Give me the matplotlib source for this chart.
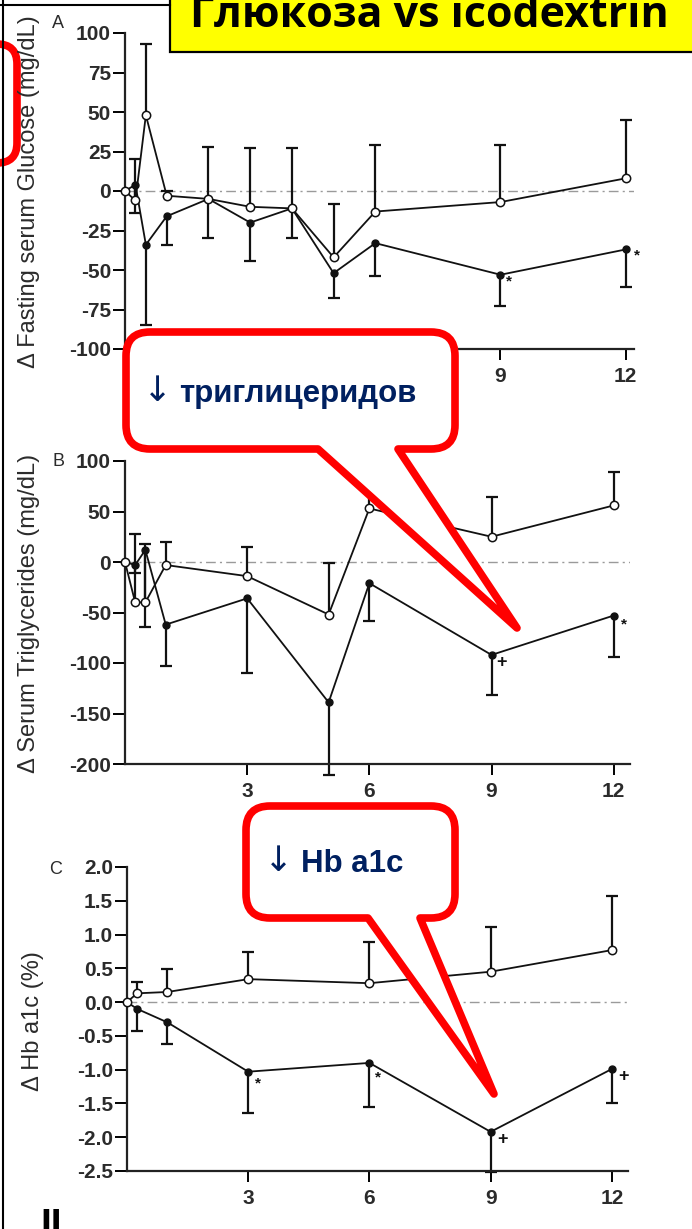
import numpy as np
import matplotlib
matplotlib.use("Agg")
import matplotlib.pyplot as plt
from matplotlib.path import Path
from matplotlib.patches import PathPatch, Rectangle

plt.rcParams['axes.unicode_minus'] = False
plt.rcParams['font.family'] = ['Liberation Sans', 'DejaVu Sans']

# ---- data ----
# A: fasting glucose, open = glucose group, filled = icodextrin group
months_a = [0, 0.25, 0.5, 1, 2, 3, 4, 5, 6, 9, 12]
glu_open = [0, -6, 48, -3, -5, -10, -11, -42, -13, -7, 8]
glu_open_err = [0, 26, 45, 3, 33, 37, 38, 34, 42, 36, 37]
glu_fill = [0, 4, -34, -16, -5, -20, -11, -52, -33, -53, -37]
glu_fill_err = [0, 18, 51, 18, 25, 24, 19, 16, 21, 20, 24]
sig_a_x = [9.2, 12.28]
sig_a_y = [-57, -41]
sig_a_txt = ['*', '*']

# B: triglycerides
months_b = [0, 0.25, 0.5, 1, 3, 5, 6, 9, 12]
tg_open = [0, -40, -40, -3, -14, -52, 53, 25, 56]
tg_open_err = [0, 68, 58, 23, 29, 51, 35, 39, 33]
tg_fill = [0, -3, 12, -62, -36, -139, -21, -92, -53]
tg_fill_err = [0, 8, 76, 41, 74, 72, 37, 40, 41]
sig_b_x = [9.25, 12.25]
sig_b_y = [-100, -62]
sig_b_txt = ['+', '*']

# C: Hb a1c
months_c = [0, 0.25, 1, 3, 6, 9, 12]
hb_open = [0, 0.13, 0.15, 0.34, 0.28, 0.45, 0.77]
hb_open_err = [0, 0.17, 0.34, 0.40, 0.61, 0.66, 0.80]
hb_fill = [0, -0.1, -0.3, -1.03, -0.9, -1.92, -0.99]
hb_fill_err = [0, 0.33, 0.32, 0.61, 0.65, 0.6, 0.51]
sig_c_x = [3.25, 6.2, 9.3, 12.3]
sig_c_y = [-1.2, -1.12, -2.04, -1.1]
sig_c_txt = ['*', '*', '+', '+']

month_ticks = [3, 6, 9, 12]

W, H = 692, 1229
fig = plt.figure(figsize=(W / 100, H / 100), dpi=100)
fig.patch.set_facecolor('white')

TXT = '#2b2b2b'


def px_axes(left, top, right, bottom):
    return fig.add_axes([left / W, 1 - bottom / H, (right - left) / W, (bottom - top) / H])


def draw_panel(ax, months, op, op_err, fi, fi_err, sx, sy, stxt):
    x = np.array(months, dtype=float)
    op = np.array(op, dtype=float)
    fi = np.array(fi, dtype=float)
    op_err = np.array(op_err, dtype=float)
    fi_err = np.array(fi_err, dtype=float)
    ax.axhline(0, color='#9a9a9a', lw=1, ls=(0, (7, 3, 1.5, 3)), zorder=1)
    # error bars: upward for open, downward for filled
    m = op_err > 0
    ax.vlines(x[m], op[m], op[m] + op_err[m], color='#111111', lw=1.6, zorder=2, clip_on=False)
    ax.plot(x[m], op[m] + op_err[m], ls='none', marker='_', ms=9, mew=1.6, color='#111111', clip_on=False)
    m = fi_err > 0
    ax.vlines(x[m], fi[m], fi[m] - fi_err[m], color='#111111', lw=1.6, zorder=2, clip_on=False)
    ax.plot(x[m], fi[m] - fi_err[m], ls='none', marker='_', ms=9, mew=1.6, color='#111111', clip_on=False)
    ax.plot(x, fi, color='#111111', lw=1.3, marker='o', ms=5, mfc='#111111', mec='#111111', zorder=3, clip_on=False)
    ax.plot(x, op, color='#111111', lw=1.3, marker='o', ms=6, mfc='white', mec='#111111', mew=1.1,
            zorder=4, clip_on=False)
    for a, b, t in zip(sx, sy, stxt):
        ax.text(a, b, t, ha='center', va='center', fontsize=13 if t == '+' else 11,
                fontweight='bold', color='#111111')
    for s in ['top', 'right']:
        ax.spines[s].set_visible(False)
    for s in ['left', 'bottom']:
        ax.spines[s].set_linewidth(1.6)
        ax.spines[s].set_color('#222222')
    ax.set_xticks(month_ticks)
    ax.tick_params(axis='y', direction='out', length=9, width=1.4, pad=1, labelsize=15, labelcolor=TXT)
    ax.tick_params(axis='x', direction='out', length=8, width=1.4, pad=5, labelsize=15, labelcolor=TXT)
    ax.set_facecolor('none')


axA = px_axes(125, 33, 634, 349)
axA.set_xlim(0, 12.2)
axA.set_ylim(-100, 100)
axA.set_yticks(np.arange(-100, 101, 25))
draw_panel(axA, months_a, glu_open, glu_open_err, glu_fill, glu_fill_err, sig_a_x, sig_a_y, sig_a_txt)
# labels 3 and 6 sit under the callout in the reference
axA.set_xticklabels(['', '', '9', '12'])

axB = px_axes(125, 461, 630, 764)
axB.set_xlim(0, 12.4)
axB.set_ylim(-200, 100)
axB.set_yticks(np.arange(-200, 101, 50))
draw_panel(axB, months_b, tg_open, tg_open_err, tg_fill, tg_fill_err, sig_b_x, sig_b_y, sig_b_txt)

axC = px_axes(127, 867, 628, 1171)
axC.set_xlim(0, 12.4)
axC.set_ylim(-2.5, 2.0)
hb_ticks = np.arange(-2.5, 2.01, 0.5)
axC.set_yticks(hb_ticks)
axC.set_yticklabels(['%.1f' % v for v in hb_ticks])
draw_panel(axC, months_c, hb_open, hb_open_err, hb_fill, hb_fill_err, sig_c_x, sig_c_y, sig_c_txt)

for ax in [axA, axB, axC]:
    for lab in ax.get_xticklabels() + ax.get_yticklabels():
        lab.set_fontweight('bold')

# overlay in pixel coordinates (y downwards) for labels and slide decorations
ov = fig.add_axes([0, 0, 1, 1], zorder=10)
ov.set_xlim(0, W)
ov.set_ylim(H, 0)
ov.axis('off')
ov.patch.set_alpha(0)

ov.text(29, 192, 'Δ Fasting serum Glucose (mg/dL)', rotation=90, ha='center', va='center',
        fontsize=17, color=TXT)
ov.text(29, 613, 'Δ Serum Triglycerides (mg/dL)', rotation=90, ha='center', va='center',
        fontsize=17, color=TXT)
ov.text(33, 1021, 'Δ Hb a1c (%)', rotation=90, ha='center', va='center', fontsize=17, color=TXT)
ov.text(58, 23, 'A', ha='center', va='center', fontsize=13, color=TXT)
ov.text(58, 461, 'B', ha='center', va='center', fontsize=13, color=TXT)
ov.text(56, 870, 'C', ha='center', va='center', fontsize=13, color=TXT)

# slide frame lines
ov.plot([3, 3], [0, H], color='black', lw=1.5)
ov.plot([0, 170], [5, 5], color='black', lw=1.5)

# yellow title box
ov.add_patch(Rectangle((170, -20), 560, 72, facecolor='#ffff00', edgecolor='black', lw=1.6))
ov.text(190, 27, 'Глюкоза vs icodextrin', ha='left', va='baseline', fontsize=31,
        fontweight='bold', family=['Open Sans', 'DejaVu Sans'], color='black')


def bubble(x0, y0, x1, y1, r, tail=None):
    verts = [(x0 + r, y0), (x1 - r, y0), (x1, y0), (x1, y0 + r), (x1, y1 - r), (x1, y1), (x1 - r, y1)]
    codes = [Path.MOVETO, Path.LINETO, Path.CURVE3, Path.CURVE3, Path.LINETO, Path.CURVE3, Path.CURVE3]
    if tail is not None:
        bl, br, tx, ty = tail
        verts += [(br, y1), (tx, ty), (bl, y1)]
        codes += [Path.LINETO, Path.LINETO, Path.LINETO]
    verts += [(x0 + r, y1), (x0, y1), (x0, y1 - r), (x0, y0 + r), (x0, y0), (x0 + r, y0), (x0 + r, y0)]
    codes += [Path.LINETO, Path.CURVE3, Path.CURVE3, Path.LINETO, Path.CURVE3, Path.CURVE3, Path.CLOSEPOLY]
    return PathPatch(Path(verts, codes), facecolor='white', edgecolor='#ff0000', lw=5.5,
                     joinstyle='round')


NAVY = '#002060'

# partial red box at the left edge
ov.add_patch(bubble(-120, 44, 17, 163, 20))

ov.add_patch(bubble(126, 332, 455, 449, 24, tail=(318, 398, 517, 628)))
ov.text(143, 401, '↓', ha='left', va='baseline', fontsize=25, family='DejaVu Sans', color=NAVY)
ov.text(179, 402, 'триглицеридов', ha='left', va='baseline', fontsize=22.5, fontweight='bold',
        color=NAVY)

ov.add_patch(bubble(246, 806, 455, 918, 24, tail=(368, 420, 494, 1094)))
ov.text(264, 871, '↓', ha='left', va='baseline', fontsize=25, family='DejaVu Sans', color=NAVY)
ov.text(301, 872, 'Hb a1c', ha='left', va='baseline', fontsize=22.5, fontweight='bold',
        color=NAVY)

ov.text(40, 1236, 'II', ha='left', va='baseline', fontsize=28, fontweight='bold', color='black')

fig.savefig('out.png', dpi=100)
